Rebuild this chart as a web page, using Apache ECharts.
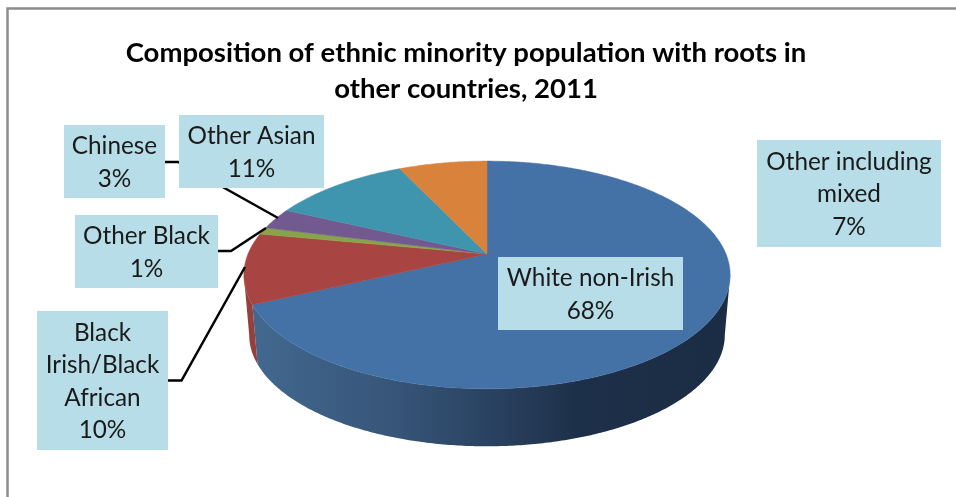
<!DOCTYPE html>
<html>
<head>
<meta charset="utf-8">
<style>html,body{margin:0;padding:0;background:#fff}#chart{width:956px;height:497px}</style>
<script src="https://cdn.jsdelivr.net/npm/echarts@6/dist/echarts.min.js"></script>
</head>
<body>
<div id="chart"></div>
<script>
// Share of the ethnic minority population, percent, clockwise from twelve o'clock
const categories = ['White non-Irish', 'Black\nIrish/Black\nAfrican', 'Other Black', 'Chinese', 'Other Asian', 'Other including\nmixed'];
const shares = [68, 10, 1, 3, 11, 7];

const topColors = ['#4471a6', '#a84543', '#88a44a', '#72598f', '#4095ae', '#d9823b'];
const wallColors = ['#2f4a6c', '#96403e', '#6f8a3c', '#5c4775', '#33798e', '#b56a2e'];

// Callout boxes and their leader lines, in slice order
const callouts = [
  { box: [498, 257, 185, 73], leader: null },
  { box: [37, 311, 131, 139], leader: [[168, 380.5], [181.5, 380.5], [245, 267]] },
  { box: [75, 215, 143, 73], leader: [[218, 251], [231, 251], [266, 228]] },
  { box: [64, 125, 101, 73], leader: [[165, 162], [178, 162], [278, 218]] },
  { box: [179, 115, 145, 73], leader: null },
  { box: [757, 140, 184, 107], leader: null }
];

// Perspective disc: wedges meet at the apex, the rim is a projected circle
const apexX = 487, apexY = 254, spreadX = 239, spreadY = 110, tilt = 0.184;
const rimCenterY = 275, baseShift = 60, baseScale = 0.978;
const total = shares.reduce((a, b) => a + b, 0);

// Only the near side of the rim shows a wall; these are the rim's horizontal extremes
const frontStart = Math.acos(-tilt), frontEnd = 2 * Math.PI - frontStart;

function rimPoint(theta, lower) {
  const u = Math.sin(theta), v = Math.cos(theta), w = 1 + tilt * v;
  const x = apexX + spreadX * u / w, y = apexY - spreadY * v / w;
  if (!lower) return [x, y];
  return [apexX + (x - apexX) * baseScale, rimCenterY + baseShift + (y - rimCenterY) * baseScale];
}

function sweep(index) {
  let before = 0;
  for (let i = 0; i < index; i++) before += shares[i];
  return [before / total * 2 * Math.PI, (before + shares[index]) / total * 2 * Math.PI];
}

function arc(a0, a1, lower) {
  const n = Math.max(4, Math.ceil((a1 - a0) / 0.01)), pts = [];
  for (let i = 0; i <= n; i++) pts.push(rimPoint(a0 + (a1 - a0) * i / n, lower));
  return pts;
}

const blueWall = new echarts.graphic.LinearGradient(0, 0, 1, 0, [
  { offset: 0, color: '#43688f' },
  { offset: 0.3, color: '#365578' },
  { offset: 0.5, color: '#2a4261' },
  { offset: 0.68, color: '#1d3049' },
  { offset: 1, color: '#1b2d44' }
]);

function renderWall(params) {
  const s = sweep(params.dataIndex);
  const a0 = Math.max(s[0], frontStart), a1 = Math.min(s[1], frontEnd);
  if (a1 <= a0) return { type: 'group', children: [] };
  const pts = arc(a0, a1, false).concat(arc(a0, a1, true).reverse());
  const fill = params.dataIndex === 0 ? blueWall : wallColors[params.dataIndex];
  return { type: 'polygon', shape: { points: pts }, style: { fill } };
}

function renderTop(params) {
  const [a0, a1] = sweep(params.dataIndex);
  const color = topColors[params.dataIndex];
  const pts = [[apexX, apexY]].concat(arc(a0, a1, false));
  return { type: 'polygon', shape: { points: pts }, style: { fill: color, stroke: color, lineWidth: 0.5 } };
}

function renderCallout(params) {
  const c = callouts[params.dataIndex];
  const [x, y, w, h] = c.box;
  const children = [];
  if (c.leader) {
    children.push({ type: 'polyline', z2: 1, shape: { points: c.leader }, style: { stroke: '#000', lineWidth: 2.5, fill: null } });
  }
  children.push({ type: 'rect', z2: 5, shape: { x, y, width: w, height: h }, style: { fill: '#b7dde8' } });
  children.push({
    type: 'text', z2: 6,
    style: {
      text: categories[params.dataIndex] + '\n' + shares[params.dataIndex] + '%',
      x: x + w / 2, y: y + h / 2 + 1, align: 'center', verticalAlign: 'middle',
      fill: '#1a1a1a', font: '24.3px Lato', lineHeight: 32.5
    }
  });
  return { type: 'group', children };
}

const rows = shares.map((v, i) => [v, categories[i]]);
const chart = echarts.init(document.getElementById('chart'), null, { renderer: 'canvas' });
chart.setOption({
  animation: false,
  backgroundColor: '#fff',
  title: {
    text: 'Composition of ethnic minority population with roots in\nother countries, 2011',
    left: 461, top: 30, textAlign: 'center',
    textStyle: { fontFamily: 'Lato', fontWeight: 'bold', fontSize: 27.5, lineHeight: 36, color: '#000' }
  },
  graphic: [{
    type: 'polyline', silent: true,
    shape: { points: [[7.5, 497], [7.5, 8.5], [956, 8.5]] },
    style: { stroke: '#8c8c8c', lineWidth: 2.5, fill: null }
  }],
  series: [
    { type: 'custom', coordinateSystem: 'none', z: 2, silent: true, data: rows, renderItem: renderWall },
    { type: 'custom', coordinateSystem: 'none', z: 3, silent: true, data: rows, renderItem: renderTop },
    { type: 'custom', coordinateSystem: 'none', z: 4, silent: true, data: rows, renderItem: renderCallout }
  ]
});
</script>
</body>
</html>
